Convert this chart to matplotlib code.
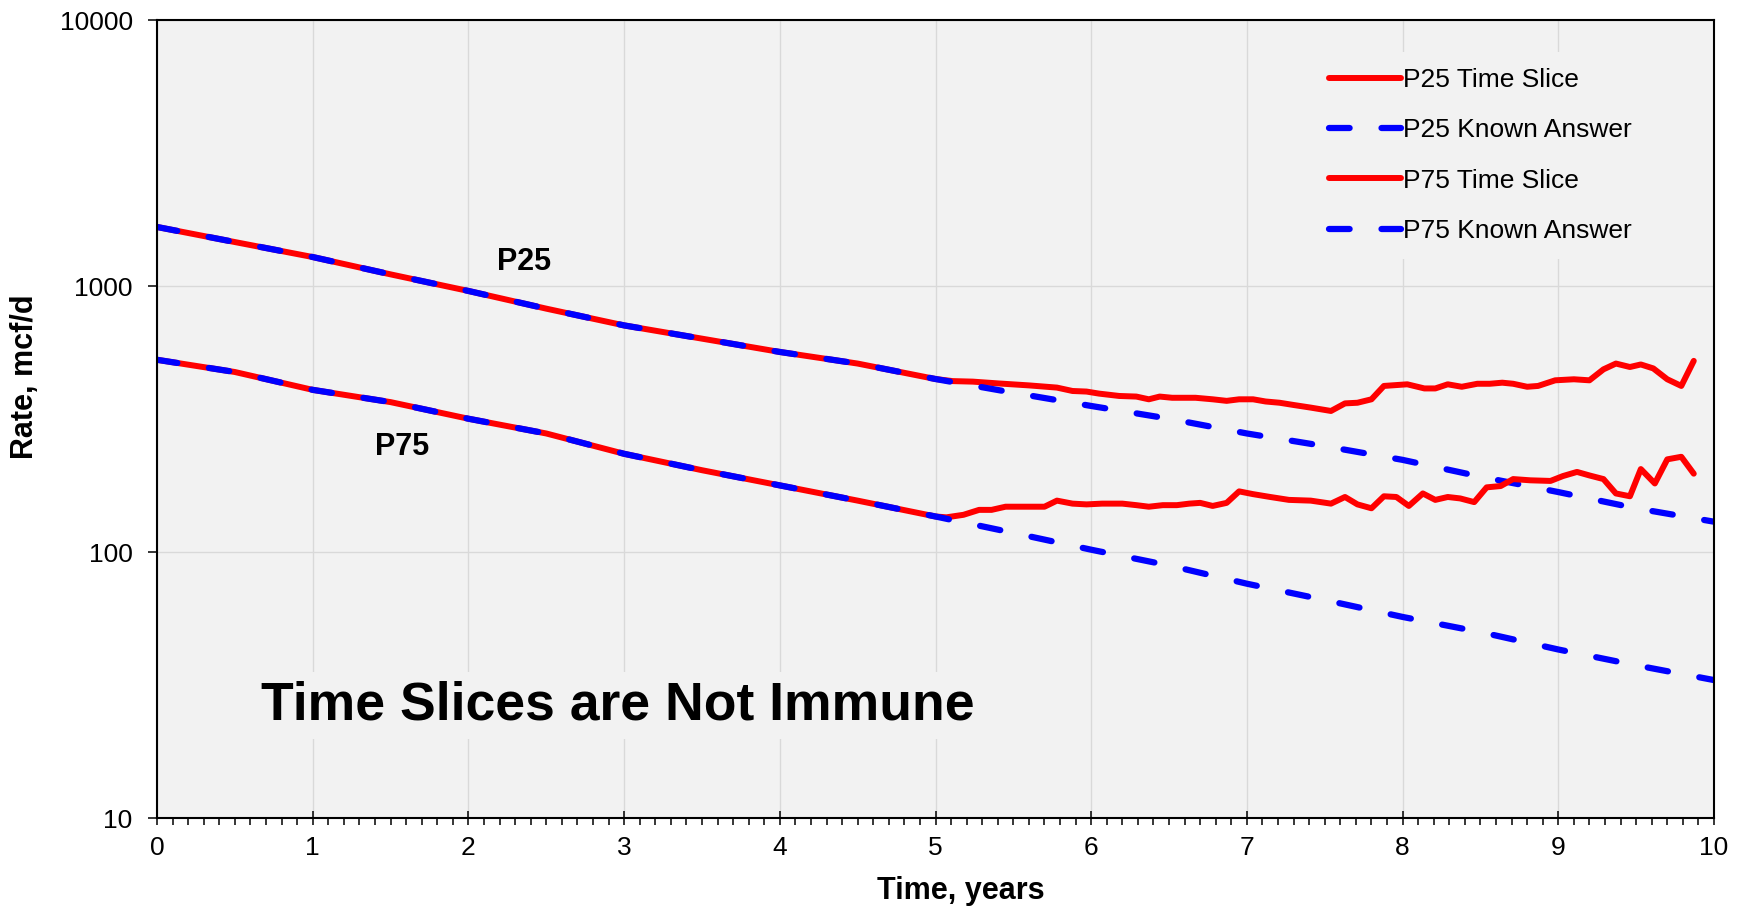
import matplotlib.pyplot as plt
from matplotlib.ticker import MultipleLocator, NullLocator

plt.rcParams['font.family'] = ['Liberation Sans', 'DejaVu Sans']

# known answers, read every half year
t_known = [0, 0.5, 1, 1.5, 2, 2.5, 3, 3.5, 4, 4.5, 5,
           5.5, 6, 6.5, 7, 7.5, 8, 8.5, 9, 9.5, 10]
p25_known = [1667, 1463, 1285, 1106, 958, 822, 711, 634, 565, 511, 447,
             397, 354, 317, 279, 250, 222, 192, 168, 146, 130]
p75_known = [528, 475, 407, 366, 317, 279, 234, 203, 178, 156, 136,
             118, 102, 89, 76, 66, 57, 50, 43, 37.5, 33]

# time slice results
t_p25_slice = [0, 0.5, 1, 1.5, 2, 2.5, 3, 3.5, 4, 4.5, 5.0,
               5.11, 5.24, 5.41, 5.60, 5.78, 5.88, 5.97, 6.05, 6.18, 6.29,
               6.37, 6.44, 6.52, 6.67, 6.78, 6.87, 6.95, 7.04, 7.12, 7.21,
               7.30, 7.41, 7.54, 7.63, 7.71, 7.80, 7.88, 8.03, 8.14, 8.21,
               8.29, 8.38, 8.48, 8.56, 8.64, 8.71, 8.80, 8.87, 8.98, 9.10,
               9.20, 9.29, 9.37, 9.46, 9.53, 9.61, 9.70, 9.79, 9.87]
p25_slice = [1667, 1463, 1285, 1106, 958, 822, 711, 634, 565, 511, 447,
             439, 437, 430, 423, 415, 403, 401, 394, 386, 384,
             375, 384, 380, 380, 375, 370, 375, 375, 368, 364,
             357, 349, 339, 362, 364, 375, 421, 427, 412, 412,
             427, 418, 429, 429, 433, 429, 418, 421, 442, 446,
             442, 486, 511, 496, 507, 490, 446, 421, 523]

t_p75_slice = [0, 0.5, 1, 1.5, 2, 2.5, 3, 3.5, 4, 4.5, 5.0,
               5.07, 5.18, 5.28, 5.36, 5.45, 5.60, 5.70, 5.78, 5.88, 5.97,
               6.07, 6.20, 6.29, 6.37, 6.46, 6.55, 6.63, 6.70, 6.78, 6.87,
               6.95, 7.04, 7.15, 7.27, 7.41, 7.54, 7.63, 7.71, 7.80, 7.88,
               7.96, 8.04, 8.13, 8.21, 8.29, 8.37, 8.46, 8.54, 8.63, 8.71,
               8.82, 8.95, 9.03, 9.12, 9.20, 9.29, 9.37, 9.46, 9.53, 9.62,
               9.70, 9.79, 9.87]
p75_slice = [528, 475, 407, 366, 317, 279, 234, 203, 178, 156, 136,
             135, 138, 144, 144, 148, 148, 148, 156, 152, 151,
             152, 152, 150, 148, 150, 150, 152, 153, 149, 153,
             169, 165, 161, 157, 156, 152, 161, 151, 146, 162,
             161, 149, 166, 157, 161, 159, 154, 175, 177, 188,
             186, 185, 193, 200, 194, 188, 166, 162, 205, 181,
             223, 228, 197]

y_ticks = [10, 100, 1000, 10000]
y_labels = ['10', '100', '1000', '10000']

bg = '#f2f2f2'
grid_c = '#d9d9d9'

fig = plt.figure(figsize=(17.42, 9.09), dpi=100)
ax = fig.add_axes([157 / 1742, 1 - 818 / 909, 1557 / 1742, 798 / 909])
ax.set_facecolor(bg)

solid = dict(color='#ff0000', lw=4.3, solid_capstyle='round', solid_joinstyle='round')
dashed = dict(color='#0000ff', lw=4.5, dashes=(3.3, 5.1), dash_capstyle='round')

ax.plot(t_p25_slice, p25_slice, label='P25 Time Slice', **solid)
ax.plot(t_known, p25_known, label='P25 Known Answer', **dashed)
ax.plot(t_p75_slice, p75_slice, label='P75 Time Slice', **solid)
ax.plot(t_known, p75_known, label='P75 Known Answer', **dashed)

ax.set_yscale('log')
ax.set_xlim(0, 10)
ax.set_ylim(10, 10000)
ax.set_yticks(y_ticks)
ax.set_yticklabels(y_labels)
ax.yaxis.set_minor_locator(NullLocator())
ax.xaxis.set_major_locator(MultipleLocator(1))
ax.xaxis.set_minor_locator(MultipleLocator(0.1))

ax.grid(True, which='major', color=grid_c, lw=1.0)
ax.set_axisbelow(True)
for s in ax.spines.values():
    s.set_color('black')
    s.set_linewidth(1.5)

ax.tick_params(axis='x', which='major', direction='inout', length=10, width=1.1,
               labelsize=19, pad=8)
ax.tick_params(axis='x', which='minor', direction='out', length=4.7, width=1.1)
ax.tick_params(axis='y', which='major', direction='out', length=6.5, width=1.1,
               labelsize=19, pad=11)

ax.set_xlabel('Time, years', fontsize=22, weight='bold')
ax.xaxis.set_label_coords(0.516, -73 / 798)
ax.xaxis.label.set_va('center')
ax.set_ylabel('Rate, mcf/d', fontsize=22, weight='bold')
ax.yaxis.set_label_coords(-0.0848, 0.553)
ax.yaxis.label.set_va('center')

ax.text(2.36, 1235, 'P25', ha='center', va='center', fontsize=22, weight='bold')
ax.text(1.575, 248, 'P75', ha='center', va='center', fontsize=22, weight='bold')
ax.text(0.67, 26.4, 'Time Slices are Not Immune', ha='left', va='center',
        fontsize=38.5, weight='bold',
        bbox=dict(facecolor=bg, edgecolor='none', pad=6))

leg = ax.legend(loc='upper left', bbox_to_anchor=(0.7424, 0.960), fontsize=19,
                handlelength=2.73, handletextpad=0.1, labelspacing=1.0,
                borderpad=0.6, borderaxespad=0, frameon=True, fancybox=False,
                facecolor=bg, edgecolor='none', framealpha=1)

fig.savefig('out.png', dpi=100)
